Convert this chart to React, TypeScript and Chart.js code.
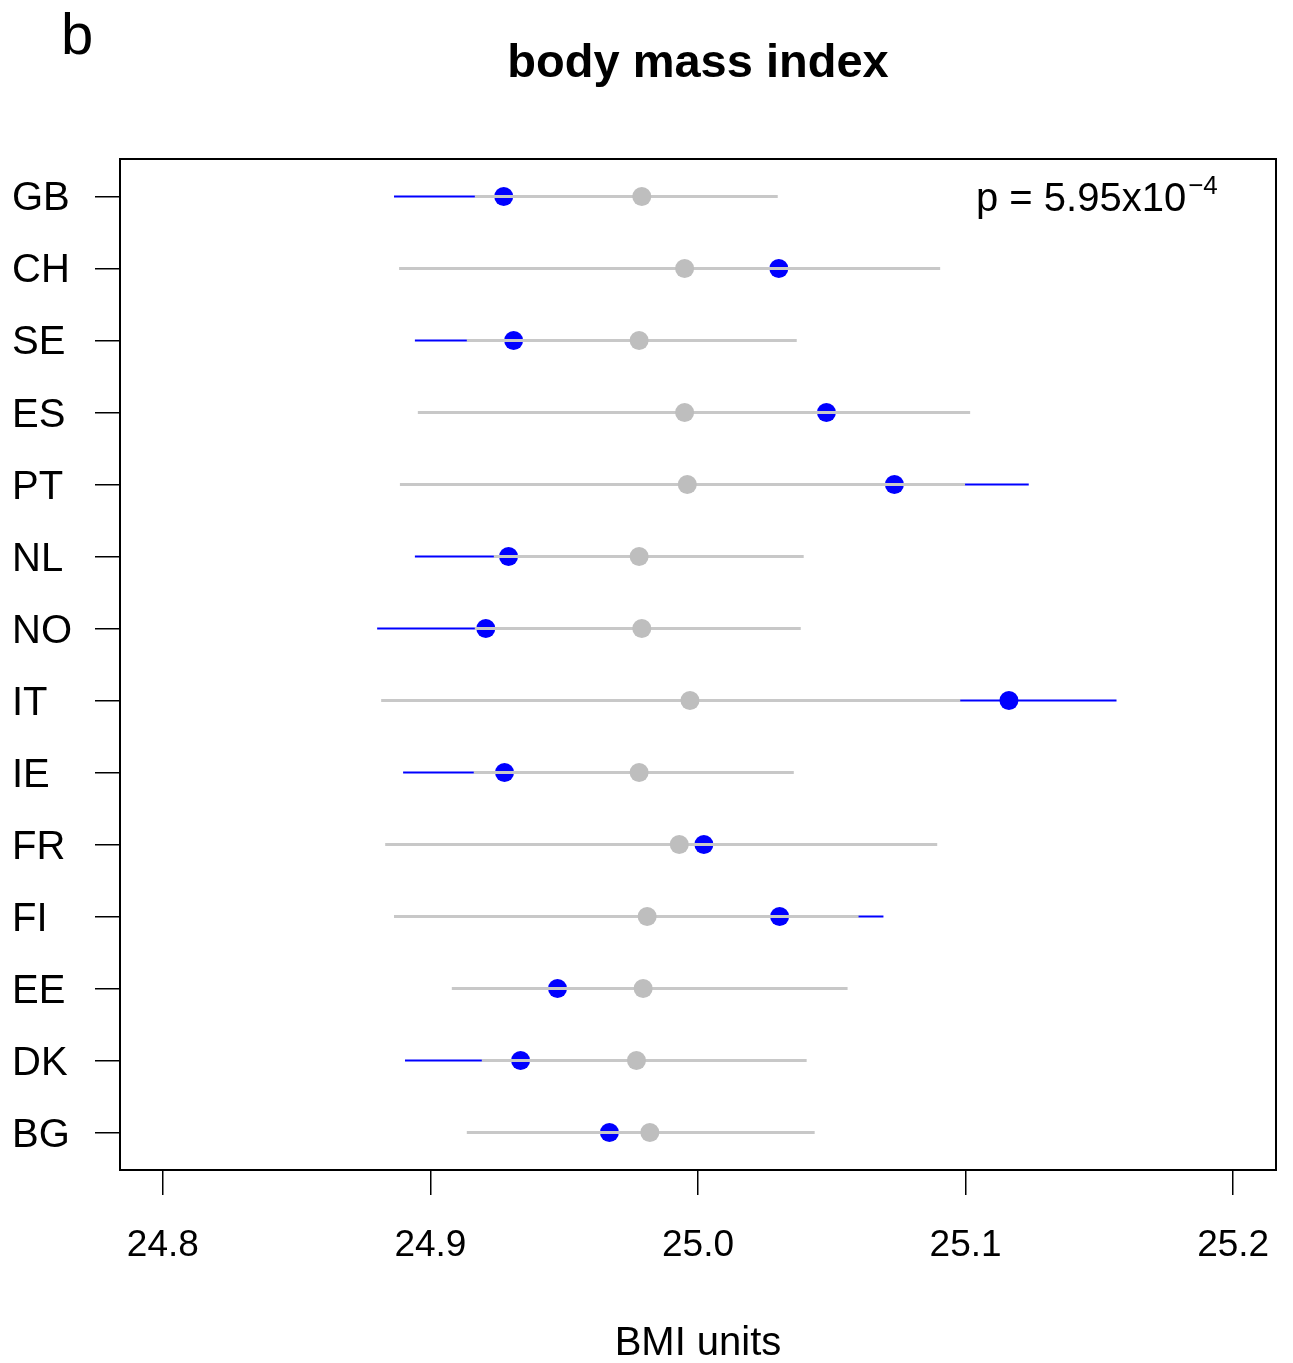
import React, { useEffect, useRef } from "react";
import { Chart, registerables } from "chart.js";

Chart.register(...registerables);

const FONT = '"Liberation Sans", Arial, Helvetica, sans-serif';

const countries = ["GB", "CH", "SE", "ES", "PT", "NL", "NO", "IT", "IE", "FR", "FI", "EE", "DK", "BG"];

// grey estimates and intervals
const greyMean = [24.979, 24.995, 24.978, 24.995, 24.996, 24.978, 24.979, 24.997, 24.978, 24.993, 24.981, 24.9795, 24.977, 24.982];
const greyLo = [24.9166, 24.8883, 24.9136, 24.8953, 24.8886, 24.9237, 24.9166, 24.8816, 24.9162, 24.8831, 24.8864, 24.908, 24.9192, 24.9136];
const greyHi = [25.0298, 25.0905, 25.0369, 25.1017, 25.0998, 25.0395, 25.0384, 25.098, 25.0358, 25.0894, 25.06, 25.0559, 25.0406, 25.0436];

// blue estimates and intervals
const blueMean = [24.9274, 25.0302, 24.9311, 25.048, 25.0734, 24.9292, 24.9207, 25.1162, 24.9277, 25.0022, 25.0305, 24.9475, 24.9337, 24.9669];
const blueLo = [24.8864, 24.985, 24.8942, 25.003, 25.0232, 24.8942, 24.8801, 25.076, 24.8898, 24.942, 24.9917, 24.913, 24.8905, 24.927];
const blueHi = [24.9684, 25.075, 24.968, 25.093, 25.1236, 24.9642, 24.9613, 25.1564, 24.9656, 25.062, 25.0693, 24.982, 24.9769, 25.007];

const xTicks = [24.8, 24.9, 25.0, 25.1, 25.2];
const xMin = 24.784;
const xMax = 25.216;

const titleText = "body mass index";
const panelLetter = "b";
const pText = "p = 5.95x10";
const pExp = "\u22124";
const xTitle = "BMI units";

export default function App() {
  const ref = useRef<HTMLCanvasElement>(null);

  useEffect(() => {
    const canvas = ref.current;
    if (!canvas) return;

    const ciData = (lo: number[], hi: number[]) => {
      const d: any[] = [];
      lo.forEach((l, i) => {
        d.push({ x: l, y: i + 1 }, { x: hi[i], y: i + 1 }, { x: null, y: null });
      });
      return d;
    };
    const ptData = (m: number[]) => m.map((v, i) => ({ x: v, y: i + 1 }));

    const annot = {
      id: "annot",
      afterDraw(chart: any) {
        const c = chart.ctx;
        const a = chart.chartArea;
        c.save();
        c.strokeStyle = "#000";
        c.lineWidth = 2;
        c.strokeRect(a.left, a.top, a.right - a.left, a.bottom - a.top);

        c.fillStyle = "#000";
        c.textBaseline = "alphabetic";
        c.font = `58px ${FONT}`;
        c.textAlign = "left";
        c.fillText(panelLetter, 61, 54);

        c.font = `bold 47px ${FONT}`;
        c.textAlign = "center";
        c.fillText(titleText, (a.left + a.right) / 2, 77);

        c.font = `40px ${FONT}`;
        c.textAlign = "left";
        c.fillText(pText, 976, 211);
        const w = c.measureText(pText).width;
        c.font = `26px ${FONT}`;
        c.fillText(pExp, 976 + w + 2, 194);
        c.restore();
      },
    };

    const chart = new Chart(canvas, {
      type: "scatter",
      data: {
        datasets: [
          {
            label: "grey points",
            data: ptData(greyMean),
            pointRadius: 9.5,
            pointBackgroundColor: "#BEBEBE",
            pointBorderWidth: 0,
            pointBorderColor: "#BEBEBE",
            order: 0,
          } as any,
          {
            label: "grey intervals",
            data: ciData(greyLo, greyHi),
            showLine: true,
            spanGaps: false,
            borderColor: "#C8C8C8",
            borderWidth: 3,
            pointRadius: 0,
            order: 1,
          } as any,
          {
            label: "blue points",
            data: ptData(blueMean),
            pointRadius: 9.5,
            pointBackgroundColor: "#0000FF",
            pointBorderWidth: 0,
            pointBorderColor: "#0000FF",
            order: 2,
          } as any,
          {
            label: "blue intervals",
            data: ciData(blueLo, blueHi),
            showLine: true,
            spanGaps: false,
            borderColor: "#0000FF",
            borderWidth: 2,
            pointRadius: 0,
            order: 3,
          } as any,
        ],
      },
      options: {
        responsive: false,
        animation: false,
        events: [],
        layout: { padding: { left: 12, top: 159, right: 17, bottom: 0 } },
        plugins: {
          legend: { display: false },
          tooltip: { enabled: false },
          title: { display: false },
        },
        scales: {
          x: {
            type: "linear",
            min: xMin,
            max: xMax,
            afterBuildTicks: (s: any) => {
              s.ticks = xTicks.map((v) => ({ value: v }));
            },
            afterFit: (s: any) => {
              s.height = 193;
              s.paddingLeft = 0;
              s.paddingRight = 0;
            },
            ticks: {
              callback: (v: any) => Number(v).toFixed(1),
              font: { size: 37, family: FONT },
              color: "#000",
              padding: 29,
              maxRotation: 0,
              autoSkip: false,
            },
            grid: {
              drawOnChartArea: false,
              drawTicks: true,
              tickLength: 25,
              color: "#000",
              lineWidth: 1.5,
            },
            border: { display: false },
            title: {
              display: true,
              text: xTitle,
              color: "#000",
              font: { size: 40, family: FONT, lineHeight: 0.95 },
              padding: 0,
            },
          },
          y: {
            type: "linear",
            reverse: true,
            min: 0.48,
            max: 14.52,
            afterBuildTicks: (s: any) => {
              s.ticks = countries.map((_, i) => ({ value: i + 1 }));
            },
            afterFit: (s: any) => {
              s.width = 108;
              s.paddingTop = 0;
              s.paddingBottom = 0;
            },
            ticks: {
              callback: (_v: any, i: number) => countries[i],
              font: { size: 40, family: FONT },
              color: "#000",
              crossAlign: "far",
              autoSkip: false,
              padding: 25,
              labelOffset: 3,
            },
            grid: {
              drawOnChartArea: false,
              drawTicks: true,
              tickLength: 25,
              color: "#000",
              lineWidth: 1.5,
            },
            border: { display: false },
          },
        },
      } as any,
      plugins: [annot],
    });

    return () => chart.destroy();
  }, []);

  return (
    <div style={{ position: "fixed", left: 0, top: 0, width: 1293, height: 1363, background: "#fff" }}>
      <canvas ref={ref} width={1293} height={1363} style={{ display: "block" }} />
    </div>
  );
}
